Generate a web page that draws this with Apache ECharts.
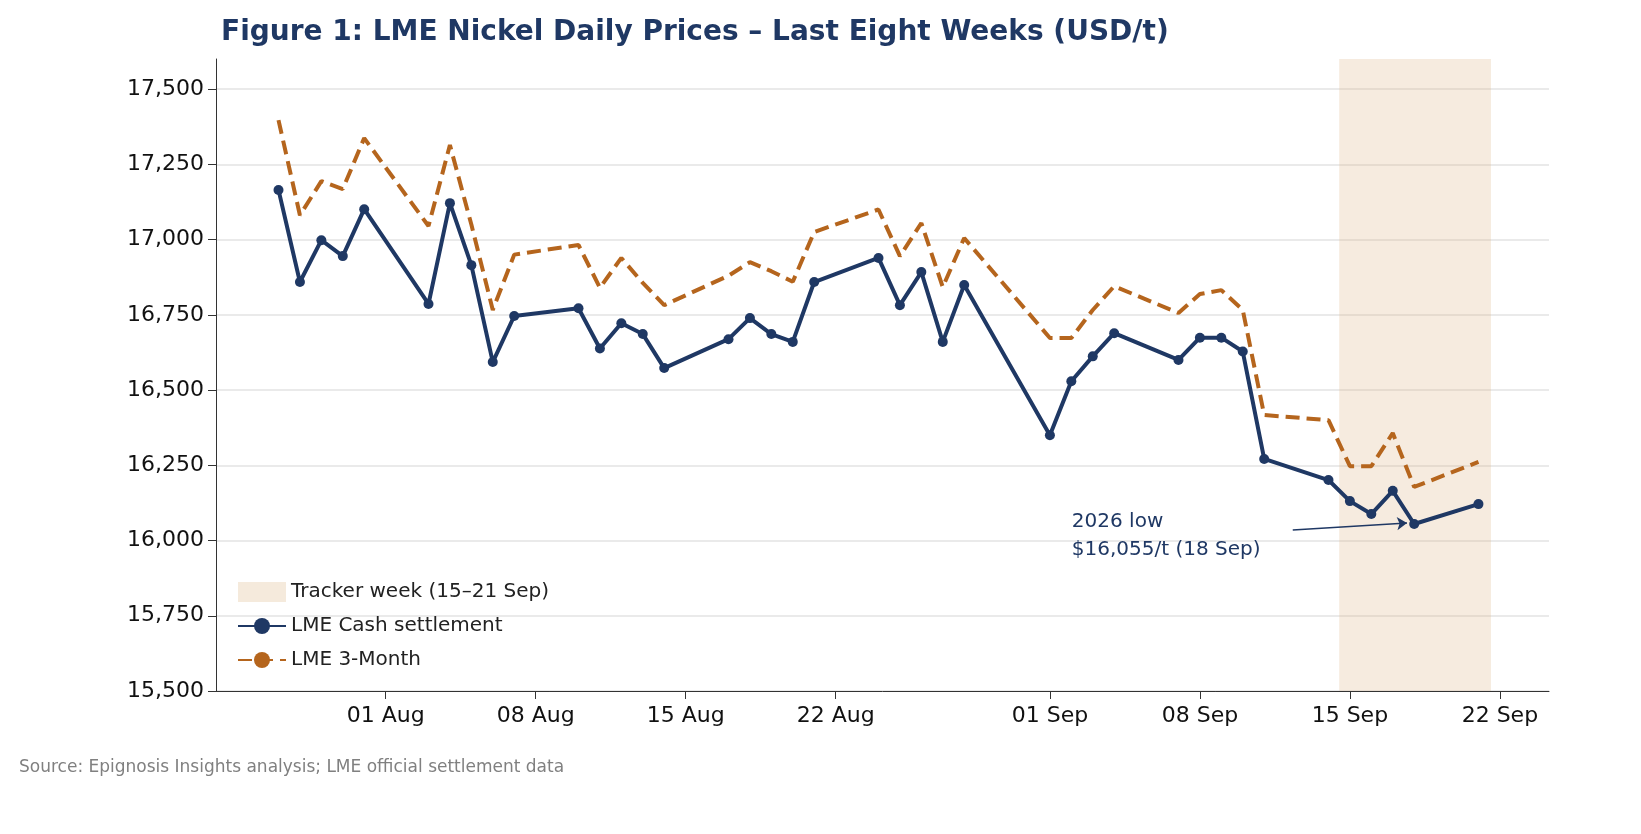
<!DOCTYPE html>
<html><head><meta charset="utf-8">
<script src="https://cdn.jsdelivr.net/npm/echarts@6/dist/echarts.min.js"></script>
<style>html,body{margin:0;padding:0;background:#fff}#c{width:1641px;height:834px}</style>
</head><body><div id="c"></div>
<script>
const dates = ['2026-07-27','2026-07-28','2026-07-29','2026-07-30','2026-07-31',
'2026-08-03','2026-08-04','2026-08-05','2026-08-06','2026-08-07',
'2026-08-10','2026-08-11','2026-08-12','2026-08-13','2026-08-14',
'2026-08-17','2026-08-18','2026-08-19','2026-08-20','2026-08-21',
'2026-08-24','2026-08-25','2026-08-26','2026-08-27','2026-08-28',
'2026-09-01','2026-09-02','2026-09-03','2026-09-04',
'2026-09-07','2026-09-08','2026-09-09','2026-09-10','2026-09-11',
'2026-09-14','2026-09-15','2026-09-16','2026-09-17','2026-09-18','2026-09-21'];
const cash = [17165,16859,16998,16945,17101, 16786,17121,16915,16593,16746,
16772,16638,16722,16686,16573, 16669,16739,16686,16660,16859,
16939,16782,16892,16660,16849, 16350,16529,16612,16689,
16600,16674,16674,16628,16271, 16201,16131,16088,16165,16055,16121];
const threeMonth = [17397,17081,17194,17168,17337, 17045,17314,17050,16766,16950,
16982,16840,16939,16856,16782, 16880,16925,16895,16860,17025,
17100,16945,17055,16842,17005, 16673,16673,16766,16845,
16756,16819,16832,16766,16417, 16400,16247,16247,16357,16178,16261];
const tickDates = ['2026-08-01','2026-08-08','2026-08-15','2026-08-22','2026-09-01','2026-09-08','2026-09-15','2026-09-22'];
const yTicks = [15500,15750,16000,16250,16500,16750,17000,17250,17500];
const months = ['Jan','Feb','Mar','Apr','May','Jun','Jul','Aug','Sep','Oct','Nov','Dec'];
const ORIGIN = Date.UTC(2026,6,24);
function d(s, h){const p=s.split('-').map(Number);return (Date.UTC(p[0],p[1]-1,p[2])-ORIGIN)/86400000+(h||0)/24;}
function lab(v){const t=new Date(ORIGIN+Math.round(v)*86400000);return String(t.getUTCDate()).padStart(2,'0')+' '+months[t.getUTCMonth()];}
const ax = {color:'#333'};
const tickVals = tickDates.map(s=>d(s));
const chart = echarts.init(document.getElementById('c'));
chart.setOption({
  animation:false,
  textStyle:{fontFamily:'DejaVu Sans'},
  title:{text:'Figure 1: LME Nickel Daily Prices – Last Eight Weeks (USD/t)',left:216,top:14,
    textStyle:{fontSize:28,fontWeight:'bold',color:'#1f3864',fontFamily:'DejaVu Sans'}},
  graphic:[{type:'text',left:19,top:759,style:{text:'Source: Epignosis Insights analysis; LME official settlement data',fontSize:17,fill:'#808080',fontFamily:'DejaVu Sans'}}],
  grid:{left:216,right:92,top:59,bottom:143},
  legend:{left:232,top:577,orient:'vertical',itemGap:14,itemWidth:48,itemHeight:20,
    textStyle:{fontSize:20,color:'#222'},
    data:[{name:'Tracker week (15–21 Sep)',icon:'rect'},{name:'LME Cash settlement'},{name:'LME 3-Month'}]},
  xAxis:{type:'value',min:d('2026-07-24',2),max:d('2026-09-24',7),
    axisLine:{lineStyle:ax},splitLine:{show:false},
    axisTick:{show:true,length:8,lineStyle:ax,customValues:tickVals},
    axisLabel:{fontSize:22,color:'#111',margin:14,customValues:tickVals,formatter:lab}},
  yAxis:{type:'value',min:15500,max:17600,
    axisLine:{show:true,lineStyle:ax},
    axisTick:{show:true,length:8,lineStyle:ax,customValues:yTicks},
    axisLabel:{fontSize:22,color:'#111',margin:12,customValues:yTicks,formatter:v=>v.toLocaleString('en-US')},
    splitLine:{show:true,lineStyle:{color:'#e3e3e3',width:1.5}}},
  series:[
    {name:'Tracker week (15–21 Sep)',type:'line',data:[],itemStyle:{color:'rgba(222,184,140,0.3)'},lineStyle:{width:0},
      markArea:{silent:true,itemStyle:{color:'rgba(222,184,140,0.28)'},data:[[{xAxis:d('2026-09-14',12)},{xAxis:d('2026-09-21',14)}]]}},
    {name:'LME Cash settlement',type:'line',data:dates.map((s,i)=>[d(s),cash[i]]),z:3,
      symbol:'circle',symbolSize:10,lineStyle:{width:4,color:'#1f3864'},itemStyle:{color:'#1f3864'},
      markLine:{silent:true,symbol:['none','arrow'],symbolSize:10,label:{show:false},
        lineStyle:{color:'#1f3864',width:1.5,type:'solid'},
        data:[[{coord:[d('2026-09-12',8),16035]},{coord:[d('2026-09-17',16),16058]}]]},
      markPoint:{silent:true,symbol:'circle',symbolSize:1,itemStyle:{color:'rgba(0,0,0,0)'},
        label:{show:true,position:'right',distance:0,fontSize:20,color:'#1f3864',lineHeight:28,align:'left',
          formatter:'2026 low\n$16,055/t (18 Sep)'},
        data:[{coord:[d('2026-09-02',0),16015]}]}},
    {name:'LME 3-Month',type:'line',data:dates.map((s,i)=>[d(s),threeMonth[i]]),z:2,
      symbol:'none',lineStyle:{width:4,color:'#b5651d',type:[14,7]},itemStyle:{color:'#b5651d'}}
  ]
});
</script></body></html>
